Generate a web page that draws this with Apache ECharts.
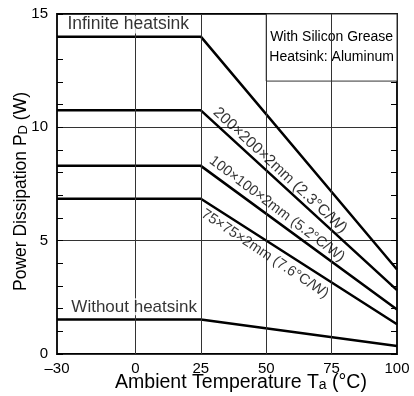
<!DOCTYPE html>
<html>
<head>
<meta charset="utf-8">
<script src="https://cdn.jsdelivr.net/npm/echarts@6/dist/echarts.min.js"></script>
<style>
html,body{margin:0;padding:0;background:#fff;}
#c{width:414px;height:396px;}
</style>
</head>
<body>
<div id="c"></div>
<script>
// ---- data ----
const xTickLabels = [-30, 0, 25, 50, 75, 100];
const xGridLines = [0, 25, 50, 75];
const breakTemps = [-30, 25, 100];
const infinitePd = [14, 14, 3.73];
const hs200Pd = [10.75, 10.75, 2.82];
const hs100Pd = [8.3, 8.3, 1.96];
const hs75Pd = [6.85, 6.85, 1.31];
const noHsPd = [1.52, 1.52, 0.35];
const curveNames = ['200×200×2mm (2.3°C/W)', '100×100×2mm (5.2°C/W)', '75×75×2mm (7.6°C/W)'];
const flatNames = ['Infinite heatsink', 'Without heatsink'];
const noteLines = ['With Silicon Grease', 'Heatsink: Aluminum'];

const FONT = "'Liberation Sans', Arial, Helvetica, sans-serif";
const chart = echarts.init(document.getElementById('c'), null, {renderer: 'canvas'});

function pts(ys) { return breakTemps.map((t, i) => [t, ys[i]]); }
function lineSeries(ys) {
  return {
    type: 'line', data: pts(ys), symbol: 'none', z: 3, silent: true,
    lineStyle: {color: '#000', width: 2.5}
  };
}
function textAnchor(x, y, text, opts) {
  return {
    type: 'scatter', z: 5, silent: true, symbolSize: 0,
    data: [[x, y]],
    label: Object.assign({
      show: true, position: 'inside', formatter: text,
      color: '#000', fontFamily: FONT
    }, opts)
  };
}

const option = {
  backgroundColor: '#fff',
  animation: false,
  grid: {
    left: 57, right: 17, top: 14, bottom: 42,
    containLabel: false, outerBoundsMode: 'none',
    show: true, borderColor: '#000', borderWidth: 1.8, backgroundColor: 'transparent'
  },
  xAxis: {
    type: 'value', min: -30, max: 100, interval: 5,
    axisLine: {show: false, onZero: false}, axisTick: {show: false}, splitLine: {show: false},
    axisLabel: {
      margin: 7, color: '#000', fontSize: 15, fontFamily: FONT, showMinLabel: true, showMaxLabel: true,
      formatter: v => xTickLabels.indexOf(v) >= 0 ? (v < 0 ? '–' + Math.abs(v) : String(v)) : ''
    },
    name: '{a|Ambient Temperature T}{s|a}{a| (°C)}',
    nameLocation: 'middle', nameGap: 19, nameMoveOverlap: false,
    nameTextStyle: {
      padding: [0, 0, 0, 28],
      rich: {
        a: {fontSize: 19.5, fontFamily: FONT, color: '#000'},
        s: {fontSize: 14, fontFamily: FONT, color: '#000', padding: [4, 0, 0, 0]}
      }
    }
  },
  yAxis: [{
    type: 'value', min: 0, max: 15, interval: 5, position: 'left',
    axisLine: {show: false, onZero: false},
    axisTick: {show: true, inside: true, length: 6, lineStyle: {color: '#000', width: 1}},
    minorTick: {show: true, splitNumber: 5, length: 6, lineStyle: {color: '#000', width: 1}},
    splitLine: {show: true, lineStyle: {color: '#333', width: 1}},
    axisLabel: {margin: 9, color: '#000', fontSize: 15, fontFamily: FONT},
    name: '{a|Power Dissipation P}{s|D}{a| (W)}',
    nameLocation: 'middle', nameGap: 27, nameMoveOverlap: false,
    nameTextStyle: {
      padding: [0, 15, 0, 0],
      rich: {
        a: {fontSize: 17.5, fontFamily: FONT, color: '#000'},
        s: {fontSize: 13, fontFamily: FONT, color: '#000', padding: [4, 0, 0, 0]}
      }
    }
  }, {
    type: 'value', min: 0, max: 15, interval: 5, position: 'right',
    axisLine: {show: false, onZero: false},
    axisTick: {show: true, inside: true, length: 6, lineStyle: {color: '#000', width: 1}},
    minorTick: {show: true, splitNumber: 5, length: 6, lineStyle: {color: '#000', width: 1}},
    splitLine: {show: false},
    axisLabel: {show: false}
  }],
  series: [
    {
      type: 'line', data: [], z: 1, silent: true,
      markLine: {
        silent: true, symbol: 'none', animation: false,
        label: {show: false},
        lineStyle: {color: '#333', width: 1, type: 'solid'},
        data: xGridLines.map(v => ({xAxis: v}))
      }
    },
    {
      type: 'line', data: [], z: 2, silent: true,
      markArea: {
        silent: true,
        itemStyle: {color: '#fff', borderColor: '#333', borderWidth: 1},
        label: {
          show: true, position: 'inside', color: '#000',
          fontFamily: FONT, fontSize: 14, lineHeight: 20,
          formatter: noteLines.join('\n')
        },
        data: [[{coord: [50, 12.04]}, {coord: [100, 15]}]]
      }
    },
    lineSeries(infinitePd),
    lineSeries(hs200Pd),
    lineSeries(hs100Pd),
    lineSeries(hs75Pd),
    lineSeries(noHsPd),
    textAnchor(-26.4, 14.54, flatNames[0], {align: 'left', verticalAlign: 'middle', fontSize: 17.5, backgroundColor: '#fff', padding: [0, 1, 0, 1]}),
    textAnchor(-24.9, 2.08, flatNames[1], {align: 'left', verticalAlign: 'middle', fontSize: 17, backgroundColor: '#fff', padding: [0, 1, 0, 1]}),
    textAnchor(55.3, 8.1, curveNames[0], {align: 'center', verticalAlign: 'middle', fontSize: 15.5, rotate: -43}),
    textAnchor(54.1, 6.4, curveNames[1], {align: 'center', verticalAlign: 'middle', fontSize: 14.5, rotate: -37}),
    textAnchor(49.5, 4.42, curveNames[2], {align: 'center', verticalAlign: 'middle', fontSize: 14.5, rotate: -33.5})
  ]
};
chart.setOption(option);
</script>
</body>
</html>
